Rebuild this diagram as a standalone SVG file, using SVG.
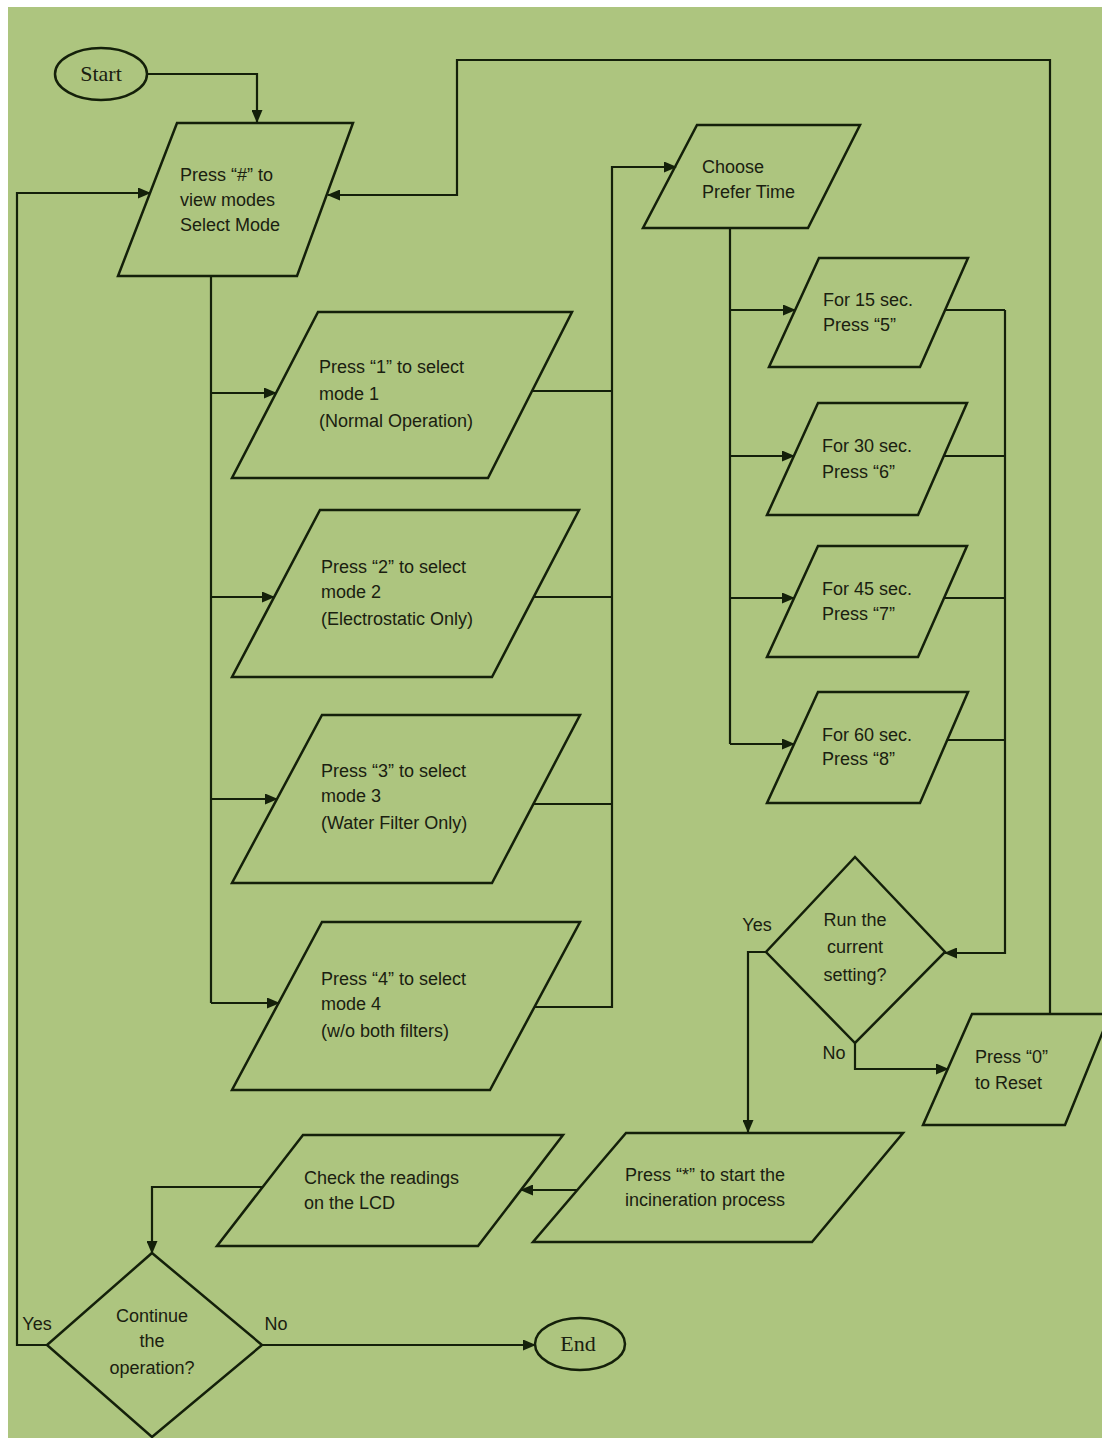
<svg xmlns="http://www.w3.org/2000/svg" width="1102" height="1438" viewBox="0 0 1102 1438">
<defs>
<marker id="ah" markerUnits="userSpaceOnUse" markerWidth="13" markerHeight="11" refX="12" refY="5.5" orient="auto">
<path d="M0,0 L13,5.5 L0,11 Z" fill="#14200a"/>
</marker>
</defs>
<style>
.s{fill:none;stroke:#14200a;stroke-width:2.5;stroke-linejoin:miter}
.c{fill:none;stroke:#14200a;stroke-width:2.2}
.a{marker-end:url(#ah)}
.t{font-family:"Liberation Sans",Arial,sans-serif;font-size:18px;fill:#1a2010}
.m{text-anchor:middle}
.r{font-family:"Liberation Serif","Times New Roman",serif;font-size:22px;fill:#1a2010;text-anchor:middle}
</style>
<rect x="0" y="0" width="1102" height="1438" fill="#ffffff"/>
<rect x="8" y="7" width="1094" height="1431" fill="#adc57f"/>
<g id="connectors">
<path class="c a" d="M148,74 H257 V122"/>
<path class="c" d="M211,276 V1003"/>
<path class="c a" d="M211,393 H276"/>
<path class="c a" d="M211,597 H274"/>
<path class="c a" d="M211,799 H277"/>
<path class="c a" d="M211,1003 H279"/>
<path class="c" d="M532,391 H612"/>
<path class="c" d="M534,597 H612"/>
<path class="c" d="M533,804 H612"/>
<path class="c a" d="M535,1007 H612 V167 H676"/>
<path class="c" d="M730,228 V744"/>
<path class="c a" d="M730,310 H795"/>
<path class="c a" d="M730,456 H794"/>
<path class="c a" d="M730,598 H794"/>
<path class="c a" d="M730,744 H794"/>
<path class="c" d="M945,310 H1005"/>
<path class="c" d="M944,456 H1005"/>
<path class="c" d="M944,598 H1005"/>
<path class="c" d="M947,740 H1005"/>
<path class="c a" d="M1005,310 V953 H945"/>
<path class="c a" d="M766,952 H748 V1132"/>
<path class="c a" d="M855,1043 V1069 H948"/>
<path class="c a" d="M1050,1014 V60 H457 V195 H328"/>
<path class="c a" d="M577,1190 H521"/>
<path class="c a" d="M262,1187 H152 V1253"/>
<path class="c a" d="M262,1345 H535"/>
<path class="c a" d="M47,1345 H17 V193 H150"/>
</g>
<g id="start">
<ellipse class="s" cx="101" cy="74" rx="46" ry="26"/>
<text class="r" x="101" y="81">Start</text>
</g>
<g id="select-mode">
<polygon class="s" points="177,123 353,123 297,276 118,276"/>
<text class="t" x="180" y="181">Press “#” to</text>
<text class="t" x="180" y="206">view modes</text>
<text class="t" x="180" y="231">Select Mode</text>
</g>
<g id="mode1">
<polygon class="s" points="318,312 572,312 488,478 232,478"/>
<text class="t" x="319" y="373">Press “1” to select</text>
<text class="t" x="319" y="400">mode 1</text>
<text class="t" x="319" y="427">(Normal Operation)</text>
</g>
<g id="mode2">
<polygon class="s" points="320,510 579,510 492,677 232,677"/>
<text class="t" x="321" y="573">Press “2” to select</text>
<text class="t" x="321" y="598">mode 2</text>
<text class="t" x="321" y="625">(Electrostatic Only)</text>
</g>
<g id="mode3">
<polygon class="s" points="322,715 580,715 492,883 232,883"/>
<text class="t" x="321" y="777">Press “3” to select</text>
<text class="t" x="321" y="802">mode 3</text>
<text class="t" x="321" y="829">(Water Filter Only)</text>
</g>
<g id="mode4">
<polygon class="s" points="322,922 580,922 490,1090 232,1090"/>
<text class="t" x="321" y="985">Press “4” to select</text>
<text class="t" x="321" y="1010">mode 4</text>
<text class="t" x="321" y="1037">(w/o both filters)</text>
</g>
<g id="choose-time">
<polygon class="s" points="697,125 860,125 808,228 643,228"/>
<text class="t" x="702" y="173">Choose</text>
<text class="t" x="702" y="198">Prefer Time</text>
</g>
<g id="time15">
<polygon class="s" points="819,258 968,258 920,367 769,367"/>
<text class="t" x="823" y="306">For 15 sec.</text>
<text class="t" x="823" y="331">Press “5”</text>
</g>
<g id="time30">
<polygon class="s" points="818,403 967,403 918,515 767,515"/>
<text class="t" x="822" y="452">For 30 sec.</text>
<text class="t" x="822" y="478">Press “6”</text>
</g>
<g id="time45">
<polygon class="s" points="818,546 967,546 918,657 767,657"/>
<text class="t" x="822" y="595">For 45 sec.</text>
<text class="t" x="822" y="620">Press “7”</text>
</g>
<g id="time60">
<polygon class="s" points="818,692 968,692 920,803 767,803"/>
<text class="t" x="822" y="741">For 60 sec.</text>
<text class="t" x="822" y="765">Press “8”</text>
</g>
<g id="run-decision">
<polygon class="s" points="855,857 945,952 855,1043 766,952"/>
<text class="t m" x="855" y="926">Run the</text>
<text class="t m" x="855" y="953">current</text>
<text class="t m" x="855" y="981">setting?</text>
<text class="t m" x="757" y="931">Yes</text>
<text class="t m" x="834" y="1059">No</text>
</g>
<g id="reset">
<polygon class="s" points="972,1014 1110,1014 1065,1125 923,1125"/>
<text class="t" x="975" y="1063">Press “0”</text>
<text class="t" x="975" y="1089">to Reset</text>
</g>
<g id="start-process">
<polygon class="s" points="626,1133 903,1133 812,1242 533,1242"/>
<text class="t" x="625" y="1181">Press “*” to start the</text>
<text class="t" x="625" y="1206">incineration process</text>
</g>
<g id="check-lcd">
<polygon class="s" points="303,1135 563,1135 478,1246 217,1246"/>
<text class="t" x="304" y="1184">Check the readings</text>
<text class="t" x="304" y="1209">on the LCD</text>
</g>
<g id="continue-decision">
<polygon class="s" points="152,1253 262,1345 152,1437 47,1345"/>
<text class="t m" x="152" y="1322">Continue</text>
<text class="t m" x="152" y="1347">the</text>
<text class="t m" x="152" y="1374">operation?</text>
<text class="t m" x="37" y="1330">Yes</text>
<text class="t m" x="276" y="1330">No</text>
</g>
<g id="end">
<ellipse class="s" cx="580" cy="1344" rx="45" ry="26"/>
<text class="r" x="578" y="1351">End</text>
</g>
</svg>
